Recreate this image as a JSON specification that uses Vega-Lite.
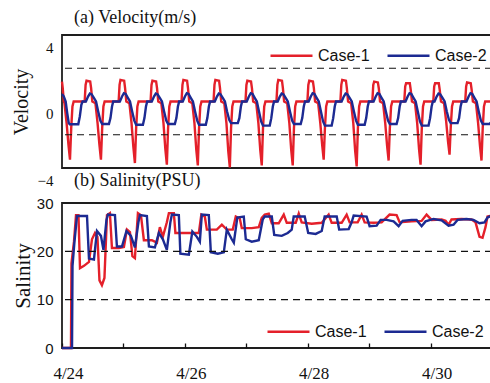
{
"$schema":"https://vega.github.io/schema/vega-lite/v6.json",
"background":"white",
"padding":{"left":10,"top":8,"right":0,"bottom":0},
"spacing":35,
"bounds":"flush",
"config":{"view":{"stroke":"#1e1e1e","strokeWidth":1.8},"axis":{"labelFlush":false,"grid":false,"domain":false,"labelColor":"#111","titleColor":"#111"},"title":{"font":"Liberation Serif","fontSize":18,"fontWeight":"normal","anchor":"start","frame":"group","color":"#111","dx":12,"offset":6},"line":{"strokeWidth":2.4,"clip":true}},
"datasets":{
"v1":[{"t":0,"v":1.2},{"t":0.012,"v":0.8},{"t":0.03,"v":0},{"t":0.04,"v":-0.1},{"t":0.075,"v":-1.3},{"t":0.105,"v":-2.6},{"t":0.13,"v":-3.5},{"t":0.15,"v":-1.6},{"t":0.17,"v":-0.3},{"t":0.19,"v":0},
{"t":0.369,"v":0},{"t":0.384,"v":1.0},{"t":0.399,"v":1.25},{"t":0.459,"v":1.2},{"t":0.474,"v":0.8},{"t":0.494,"v":0},{"t":0.544,"v":-0.1},{"t":0.579,"v":-1.3},{"t":0.609,"v":-2.6},{"t":0.634,"v":-3.5},{"t":0.654,"v":-1.6},{"t":0.674,"v":-0.3},{"t":0.694,"v":0},
{"t":0.922,"v":0},{"t":0.937,"v":1.0},{"t":0.952,"v":1.3},{"t":1.012,"v":1.25},{"t":1.027,"v":0.8},{"t":1.047,"v":0},{"t":1.097,"v":-0.1},{"t":1.132,"v":-1.3},{"t":1.162,"v":-2.75},{"t":1.187,"v":-3.7},{"t":1.207,"v":-1.6},{"t":1.227,"v":-0.3},{"t":1.247,"v":0},
{"t":1.442,"v":0},{"t":1.457,"v":1.0},{"t":1.472,"v":1.25},{"t":1.532,"v":1.2},{"t":1.547,"v":0.8},{"t":1.567,"v":0},{"t":1.617,"v":-0.1},{"t":1.652,"v":-1.3},{"t":1.682,"v":-2.85},{"t":1.707,"v":-3.8},{"t":1.727,"v":-1.6},{"t":1.747,"v":-0.3},{"t":1.767,"v":0},
{"t":1.946,"v":0},{"t":1.961,"v":1.0},{"t":1.976,"v":1.3},{"t":2.036,"v":1.25},{"t":2.051,"v":0.8},{"t":2.071,"v":0},{"t":2.121,"v":-0.1},{"t":2.156,"v":-1.3},{"t":2.186,"v":-2.9},{"t":2.211,"v":-3.85},{"t":2.231,"v":-1.6},{"t":2.251,"v":-0.3},{"t":2.271,"v":0},
{"t":2.467,"v":0},{"t":2.482,"v":1.0},{"t":2.497,"v":1.3},{"t":2.557,"v":1.25},{"t":2.572,"v":0.8},{"t":2.592,"v":0},{"t":2.642,"v":-0.1},{"t":2.677,"v":-1.3},{"t":2.707,"v":-3.0},{"t":2.732,"v":-3.97},{"t":2.752,"v":-1.6},{"t":2.772,"v":-0.3},{"t":2.792,"v":0},
{"t":2.987,"v":0},{"t":3.002,"v":1.0},{"t":3.017,"v":1.25},{"t":3.077,"v":1.2},{"t":3.092,"v":0.8},{"t":3.112,"v":0},{"t":3.162,"v":-0.1},{"t":3.197,"v":-1.3},{"t":3.227,"v":-2.9},{"t":3.252,"v":-3.85},{"t":3.272,"v":-1.6},{"t":3.292,"v":-0.3},{"t":3.312,"v":0},
{"t":3.491,"v":0},{"t":3.506,"v":1.0},{"t":3.521,"v":1.3},{"t":3.581,"v":1.25},{"t":3.596,"v":0.8},{"t":3.616,"v":0},{"t":3.666,"v":-0.1},{"t":3.701,"v":-1.3},{"t":3.731,"v":-2.9},{"t":3.756,"v":-3.85},{"t":3.776,"v":-1.6},{"t":3.796,"v":-0.3},{"t":3.816,"v":0},
{"t":3.995,"v":0},{"t":4.01,"v":1.0},{"t":4.025,"v":1.25},{"t":4.085,"v":1.2},{"t":4.1,"v":0.8},{"t":4.12,"v":0},{"t":4.17,"v":-0.1},{"t":4.205,"v":-1.3},{"t":4.235,"v":-2.6},{"t":4.26,"v":-3.5},{"t":4.28,"v":-1.6},{"t":4.3,"v":-0.3},{"t":4.32,"v":0},
{"t":4.532,"v":0},{"t":4.547,"v":1.0},{"t":4.562,"v":1.3},{"t":4.622,"v":1.25},{"t":4.637,"v":0.8},{"t":4.657,"v":0},{"t":4.707,"v":-0.1},{"t":4.742,"v":-1.3},{"t":4.772,"v":-2.95},{"t":4.797,"v":-3.9},{"t":4.817,"v":-1.6},{"t":4.837,"v":-0.3},{"t":4.857,"v":0},
{"t":5.052,"v":0},{"t":5.067,"v":1.0},{"t":5.082,"v":1.2},{"t":5.142,"v":1.15},{"t":5.157,"v":0.8},{"t":5.177,"v":0},{"t":5.227,"v":-0.1},{"t":5.262,"v":-1.3},{"t":5.292,"v":-2.65},{"t":5.317,"v":-3.55},{"t":5.337,"v":-1.6},{"t":5.357,"v":-0.3},{"t":5.377,"v":0},
{"t":5.572,"v":0},{"t":5.587,"v":0.9},{"t":5.602,"v":1.1},{"t":5.662,"v":1.1},{"t":5.677,"v":0.7},{"t":5.697,"v":0},{"t":5.747,"v":-0.1},{"t":5.782,"v":-1.3},{"t":5.812,"v":-2.85},{"t":5.837,"v":-3.8},{"t":5.857,"v":-1.6},{"t":5.877,"v":-0.3},{"t":5.897,"v":0},
{"t":6.044,"v":0},{"t":6.059,"v":0.9},{"t":6.074,"v":1.1},{"t":6.134,"v":1.1},{"t":6.149,"v":0.7},{"t":6.169,"v":0},{"t":6.219,"v":-0.1},{"t":6.254,"v":-1.2},{"t":6.284,"v":-2.4},{"t":6.309,"v":-3.2},{"t":6.329,"v":-1.5},{"t":6.349,"v":-0.3},{"t":6.369,"v":0},
{"t":6.564,"v":0},{"t":6.579,"v":0.9},{"t":6.594,"v":1.15},{"t":6.654,"v":1.1},{"t":6.669,"v":0.7},{"t":6.689,"v":0},{"t":6.739,"v":-0.1},{"t":6.774,"v":-1.3},{"t":6.804,"v":-2.65},{"t":6.829,"v":-3.55},{"t":6.849,"v":-1.6},{"t":6.869,"v":-0.3},{"t":6.889,"v":0},{"t":7.0,"v":0}],
"v2":[{"t":0,"v":0.45},{"t":0.03,"v":0.3},{"t":0.06,"v":0},{"t":0.085,"v":-0.7},{"t":0.11,"v":-1.3},{"t":0.125,"v":-1.37},{"t":0.265,"v":-1.37},{"t":0.29,"v":-0.9},{"t":0.315,"v":-0.2},{"t":0.335,"v":0},
{"t":0.389,"v":0},{"t":0.424,"v":0.3},{"t":0.454,"v":0.48},{"t":0.484,"v":0.43},{"t":0.519,"v":0.22},{"t":0.554,"v":0},{"t":0.589,"v":-0.6},{"t":0.624,"v":-1.15},{"t":0.654,"v":-1.35},{"t":0.764,"v":-1.35},{"t":0.789,"v":-1.0},{"t":0.814,"v":-0.3},{"t":0.834,"v":0},
{"t":0.942,"v":0},{"t":0.977,"v":0.3},{"t":1.007,"v":0.5},{"t":1.037,"v":0.45},{"t":1.072,"v":0.22},{"t":1.107,"v":0},{"t":1.142,"v":-0.6},{"t":1.177,"v":-1.15},{"t":1.207,"v":-1.4},{"t":1.317,"v":-1.4},{"t":1.342,"v":-1.0},{"t":1.367,"v":-0.3},{"t":1.387,"v":0},
{"t":1.462,"v":0},{"t":1.497,"v":0.3},{"t":1.527,"v":0.48},{"t":1.557,"v":0.43},{"t":1.592,"v":0.22},{"t":1.627,"v":0},{"t":1.662,"v":-0.6},{"t":1.697,"v":-1.15},{"t":1.727,"v":-1.35},{"t":1.837,"v":-1.35},{"t":1.862,"v":-1.0},{"t":1.887,"v":-0.3},{"t":1.907,"v":0},
{"t":1.966,"v":0},{"t":2.001,"v":0.3},{"t":2.031,"v":0.5},{"t":2.061,"v":0.45},{"t":2.096,"v":0.22},{"t":2.131,"v":0},{"t":2.166,"v":-0.6},{"t":2.201,"v":-1.15},{"t":2.231,"v":-1.4},{"t":2.341,"v":-1.4},{"t":2.366,"v":-1.0},{"t":2.391,"v":-0.3},{"t":2.411,"v":0},
{"t":2.487,"v":0},{"t":2.522,"v":0.3},{"t":2.552,"v":0.48},{"t":2.582,"v":0.43},{"t":2.617,"v":0.22},{"t":2.652,"v":0},{"t":2.687,"v":-0.6},{"t":2.722,"v":-1.1},{"t":2.752,"v":-1.3},{"t":2.862,"v":-1.3},{"t":2.887,"v":-1.0},{"t":2.912,"v":-0.3},{"t":2.932,"v":0},
{"t":3.007,"v":0},{"t":3.042,"v":0.3},{"t":3.072,"v":0.5},{"t":3.102,"v":0.45},{"t":3.137,"v":0.22},{"t":3.172,"v":0},{"t":3.207,"v":-0.6},{"t":3.242,"v":-1.2},{"t":3.272,"v":-1.45},{"t":3.382,"v":-1.45},{"t":3.407,"v":-1.0},{"t":3.432,"v":-0.3},{"t":3.452,"v":0},
{"t":3.511,"v":0},{"t":3.546,"v":0.3},{"t":3.576,"v":0.48},{"t":3.606,"v":0.43},{"t":3.641,"v":0.22},{"t":3.676,"v":0},{"t":3.711,"v":-0.6},{"t":3.746,"v":-1.15},{"t":3.776,"v":-1.35},{"t":3.886,"v":-1.35},{"t":3.911,"v":-1.0},{"t":3.936,"v":-0.3},{"t":3.956,"v":0},
{"t":4.015,"v":0},{"t":4.05,"v":0.3},{"t":4.08,"v":0.5},{"t":4.11,"v":0.45},{"t":4.145,"v":0.22},{"t":4.18,"v":0},{"t":4.215,"v":-0.6},{"t":4.25,"v":-1.2},{"t":4.28,"v":-1.45},{"t":4.39,"v":-1.45},{"t":4.415,"v":-1.0},{"t":4.44,"v":-0.3},{"t":4.46,"v":0},
{"t":4.552,"v":0},{"t":4.587,"v":0.3},{"t":4.617,"v":0.48},{"t":4.647,"v":0.43},{"t":4.682,"v":0.22},{"t":4.717,"v":0},{"t":4.752,"v":-0.6},{"t":4.787,"v":-1.15},{"t":4.817,"v":-1.4},{"t":4.927,"v":-1.4},{"t":4.952,"v":-1.0},{"t":4.977,"v":-0.3},{"t":4.997,"v":0},
{"t":5.072,"v":0},{"t":5.107,"v":0.3},{"t":5.137,"v":0.5},{"t":5.167,"v":0.45},{"t":5.202,"v":0.22},{"t":5.237,"v":0},{"t":5.272,"v":-0.6},{"t":5.307,"v":-1.15},{"t":5.337,"v":-1.35},{"t":5.447,"v":-1.35},{"t":5.472,"v":-1.0},{"t":5.497,"v":-0.3},{"t":5.517,"v":0},
{"t":5.592,"v":0},{"t":5.627,"v":0.3},{"t":5.657,"v":0.5},{"t":5.687,"v":0.45},{"t":5.722,"v":0.22},{"t":5.757,"v":0},{"t":5.792,"v":-0.6},{"t":5.827,"v":-1.2},{"t":5.857,"v":-1.45},{"t":5.967,"v":-1.45},{"t":5.992,"v":-1.0},{"t":6.017,"v":-0.3},{"t":6.037,"v":0},
{"t":6.064,"v":0},{"t":6.099,"v":0.3},{"t":6.129,"v":0.48},{"t":6.159,"v":0.43},{"t":6.194,"v":0.22},{"t":6.229,"v":0},{"t":6.264,"v":-0.6},{"t":6.299,"v":-1.1},{"t":6.329,"v":-1.3},{"t":6.439,"v":-1.3},{"t":6.464,"v":-1.0},{"t":6.489,"v":-0.3},{"t":6.509,"v":0},
{"t":6.584,"v":0},{"t":6.619,"v":0.3},{"t":6.649,"v":0.5},{"t":6.679,"v":0.45},{"t":6.714,"v":0.22},{"t":6.749,"v":0},{"t":6.784,"v":-0.6},{"t":6.819,"v":-1.15},{"t":6.849,"v":-1.35},{"t":6.959,"v":-1.35},{"t":7.0,"v":-1.2}],
"s1":[{"t":0,"s":0},{"t":0.146,"s":0},{"t":0.154,"s":17.5},{"t":0.195,"s":22},{"t":0.228,"s":27.5},{"t":0.268,"s":27.5},{"t":0.293,"s":16.5},{"t":0.358,"s":17},{"t":0.439,"s":17.8},{"t":0.488,"s":22.5},{"t":0.537,"s":23.8},{"t":0.577,"s":23},{"t":0.61,"s":14},{"t":0.65,"s":13},{"t":0.691,"s":14.5},{"t":0.732,"s":27.5},{"t":0.78,"s":27.9},{"t":0.813,"s":20.7},{"t":0.927,"s":20.7},{"t":1.008,"s":20.9},{"t":1.057,"s":24.5},{"t":1.106,"s":24},{"t":1.146,"s":19},{"t":1.187,"s":18.6},{"t":1.236,"s":27.9},{"t":1.285,"s":27.5},{"t":1.333,"s":22.3},{"t":1.463,"s":22.3},{"t":1.545,"s":21.8},{"t":1.593,"s":25},{"t":1.642,"s":23},{"t":1.707,"s":26},{"t":1.74,"s":27.9},{"t":1.821,"s":27.9},{"t":1.846,"s":23.8},{"t":2.033,"s":23.8},{"t":2.228,"s":23.8},{"t":2.268,"s":27.6},{"t":2.325,"s":27.2},{"t":2.358,"s":24.5},{"t":2.52,"s":24.5},{"t":2.602,"s":25.5},{"t":2.683,"s":24.5},{"t":2.78,"s":24.5},{"t":2.829,"s":27.2},{"t":2.894,"s":26.8},{"t":2.927,"s":24.8},{"t":3.089,"s":24.8},{"t":3.203,"s":25},{"t":3.252,"s":26.9},{"t":3.301,"s":27.6},{"t":3.366,"s":27.8},{"t":3.415,"s":25.8},{"t":3.528,"s":25.8},{"t":3.61,"s":27.6},{"t":3.659,"s":25.9},{"t":3.805,"s":25.9},{"t":3.854,"s":27.8},{"t":3.902,"s":26},{"t":4.065,"s":25.7},{"t":4.228,"s":25.9},{"t":4.341,"s":27.6},{"t":4.39,"s":25.9},{"t":4.553,"s":25.9},{"t":4.634,"s":27.6},{"t":4.683,"s":26},{"t":4.813,"s":26},{"t":4.878,"s":27.6},{"t":4.927,"s":26},{"t":5.073,"s":25.9},{"t":5.203,"s":26},{"t":5.333,"s":27.6},{"t":5.447,"s":27.5},{"t":5.496,"s":26},{"t":5.691,"s":26.2},{"t":5.854,"s":26.3},{"t":5.935,"s":27.6},{"t":6.016,"s":26.5},{"t":6.179,"s":26.6},{"t":6.244,"s":26.3},{"t":6.293,"s":25.5},{"t":6.341,"s":26.6},{"t":6.504,"s":26.7},{"t":6.667,"s":26.6},{"t":6.732,"s":26},{"t":6.797,"s":23},{"t":6.846,"s":22.8},{"t":6.894,"s":25},{"t":6.927,"s":27.2},{"t":6.992,"s":27.4}],
"s2":[{"t":0,"s":0},{"t":0.163,"s":0},{"t":0.171,"s":17},{"t":0.203,"s":22},{"t":0.244,"s":27.3},{"t":0.407,"s":27.3},{"t":0.439,"s":18.5},{"t":0.52,"s":18.3},{"t":0.569,"s":24.2},{"t":0.634,"s":23.2},{"t":0.675,"s":20.3},{"t":0.724,"s":26.5},{"t":0.748,"s":27.6},{"t":0.862,"s":27.5},{"t":0.894,"s":21},{"t":0.976,"s":21},{"t":1.049,"s":24.2},{"t":1.122,"s":23.2},{"t":1.187,"s":20.8},{"t":1.244,"s":26},{"t":1.268,"s":27.5},{"t":1.382,"s":27.3},{"t":1.415,"s":21},{"t":1.512,"s":20.8},{"t":1.577,"s":23.8},{"t":1.642,"s":22.5},{"t":1.707,"s":20.3},{"t":1.764,"s":26},{"t":1.789,"s":27.6},{"t":1.902,"s":27.5},{"t":1.927,"s":19.5},{"t":2.065,"s":19.3},{"t":2.122,"s":24.1},{"t":2.195,"s":23},{"t":2.244,"s":22},{"t":2.276,"s":27.6},{"t":2.39,"s":27.5},{"t":2.423,"s":19.8},{"t":2.537,"s":19.5},{"t":2.634,"s":19.8},{"t":2.683,"s":24.5},{"t":2.764,"s":22.5},{"t":2.797,"s":21.8},{"t":2.854,"s":27},{"t":2.959,"s":27.2},{"t":2.992,"s":22.5},{"t":3.089,"s":22},{"t":3.203,"s":22.3},{"t":3.268,"s":26.6},{"t":3.301,"s":27.2},{"t":3.415,"s":27.2},{"t":3.455,"s":23.4},{"t":3.577,"s":23.2},{"t":3.675,"s":23.8},{"t":3.74,"s":24.5},{"t":3.772,"s":27.2},{"t":3.951,"s":27.2},{"t":4.008,"s":23.8},{"t":4.13,"s":23.6},{"t":4.228,"s":24.2},{"t":4.276,"s":27.2},{"t":4.472,"s":27.2},{"t":4.512,"s":24.5},{"t":4.667,"s":24.6},{"t":4.715,"s":26},{"t":4.748,"s":27.4},{"t":4.959,"s":27.2},{"t":5.008,"s":25.2},{"t":5.122,"s":25.3},{"t":5.187,"s":26.5},{"t":5.285,"s":26.5},{"t":5.398,"s":26.2},{"t":5.48,"s":25.2},{"t":5.545,"s":26.3},{"t":5.691,"s":26.5},{"t":5.772,"s":26.5},{"t":5.854,"s":25.2},{"t":5.919,"s":26.2},{"t":6.049,"s":26.7},{"t":6.179,"s":26.4},{"t":6.293,"s":25.3},{"t":6.374,"s":25.5},{"t":6.439,"s":26.5},{"t":6.585,"s":26.7},{"t":6.699,"s":26.5},{"t":6.797,"s":25.8},{"t":6.878,"s":26},{"t":6.927,"s":27},{"t":6.992,"s":27.4}]
},
"resolve":{"scale":{"x":"independent","y":"independent","color":"independent"},"legend":{"color":"independent"}},
"vconcat":[
{"width":430,"height":133,"title":"(a) Velocity(m/s)",
 "encoding":{"y":{"field":"v","type":"quantitative","scale":{"domain":[-4,4],"nice":false,"zero":false},"axis":{"values":[-4,0,4],"title":"Velocity","titleFont":"Liberation Serif","titleFontSize":20,"titleFontWeight":"normal","titlePadding":6,"labelFont":"Liberation Serif","labelFontSize":15,"labelOffset":12,"ticks":false,"labelPadding":9}}},
 "layer":[
  {"data":{"name":"v1"},"mark":"line","encoding":{"x":{"field":"t","type":"quantitative","scale":{"domain":[0,7],"nice":false,"zero":false},"axis":null},"color":{"datum":"Case-1","type":"nominal","scale":{"domain":["Case-1","Case-2"],"range":["#e4202a","#1c2a92"]},"legend":{"title":null,"orient":"none","legendX":207,"legendY":-2,"direction":"horizontal","symbolType":"stroke","symbolSize":1764,"symbolStrokeWidth":2.6,"symbolDash":[1,0],"labelFont":"Liberation Sans","labelFontSize":16,"labelColor":"#111","padding":0,"columnPadding":12,"labelOffset":4}}}},
  {"data":{"name":"v2"},"mark":"line","encoding":{"x":{"field":"t","type":"quantitative","scale":{"domain":[0,7],"nice":false,"zero":false},"axis":null},"color":{"datum":"Case-2","type":"nominal"}}},
  {"data":{"values":[{"v":2},{"v":-2}]},"mark":{"type":"rule","strokeDash":[7,5],"color":"#111","strokeWidth":1.2},"encoding":{}}
 ]},
{"width":430,"height":145,"title":"(b) Salinity(PSU)",
 "encoding":{"y":{"field":"s","type":"quantitative","scale":{"domain":[0,30],"nice":false},"axis":{"values":[0,10,20,30],"title":"Salinity","titleFont":"Liberation Serif","titleFontSize":21,"titleFontWeight":"normal","titlePadding":3,"labelFont":"Liberation Sans","labelFontSize":15,"ticks":false,"labelPadding":9}}},
 "layer":[
  {"data":{"name":"s1"},"mark":"line","encoding":{"x":{"field":"t","type":"quantitative","scale":{"domain":[0,7],"nice":false,"zero":false},"axis":{"values":[0,1,2,3,4,5,6,7],"labelExpr":"datum.value % 2 == 0 ? '4/' + (24 + datum.value) : ''","title":null,"tickSize":-5,"tickColor":"#111","tickWidth":1.3,"labelFont":"Liberation Serif","labelFontSize":17,"labelPadding":22,"labelOffset":6}},"color":{"datum":"Case-1","type":"nominal","scale":{"domain":["Case-1","Case-2"],"range":["#e4202a","#1c2a92"]},"legend":{"title":null,"orient":"bottom-right","direction":"horizontal","symbolType":"stroke","symbolSize":1764,"symbolStrokeWidth":2.6,"symbolDash":[1,0],"labelFont":"Liberation Sans","labelFontSize":16,"labelColor":"#111","offset":8,"padding":0,"columnPadding":12,"labelOffset":4}}}},
  {"data":{"name":"s2"},"mark":"line","encoding":{"x":{"field":"t","type":"quantitative","scale":{"domain":[0,7],"nice":false,"zero":false},"axis":{"values":[0,1,2,3,4,5,6,7],"labelExpr":"datum.value % 2 == 0 ? '4/' + (24 + datum.value) : ''","title":null,"tickSize":-5,"tickColor":"#111","tickWidth":1.3,"labelFont":"Liberation Serif","labelFontSize":17,"labelPadding":22,"labelOffset":6}},"color":{"datum":"Case-2","type":"nominal"}}},
  {"data":{"values":[{"s":10},{"s":20}]},"mark":{"type":"rule","strokeDash":[7,5],"color":"#111","strokeWidth":1.2},"encoding":{}}
 ]}
]
}
